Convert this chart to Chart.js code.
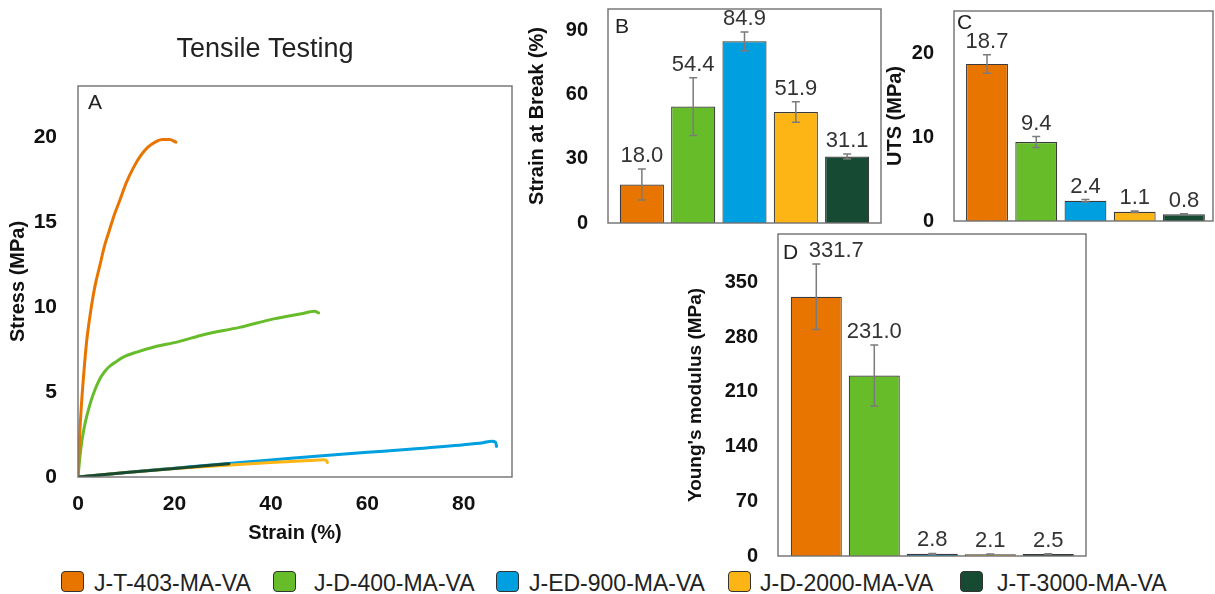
<!DOCTYPE html>
<html>
<head>
<meta charset="utf-8">
<script src="https://cdn.jsdelivr.net/npm/chart.js@4.4.0/dist/chart.umd.min.js"></script>
<style>
  body { margin:0; background:#fff; width:1215px; height:594px; overflow:hidden; position:relative; font-family:"Liberation Sans", Arial, sans-serif; }
  canvas { position:absolute; }
  .sw { position:absolute; top:571px; width:21px; height:19px; border:1.5px solid #333; border-radius:4px; }
  .txt { position:absolute; top:571px; font-size:23px; line-height:24px; color:#222; white-space:nowrap; }
</style>
</head>
<body>
<canvas id="cA" width="530" height="560" style="left:0;top:0"></canvas>
<canvas id="cB" width="370" height="240" style="left:520px;top:0"></canvas>
<canvas id="cC" width="335" height="240" style="left:880px;top:0"></canvas>
<canvas id="cD" width="420" height="340" style="left:680px;top:228px"></canvas>
<div id="legend"></div>
<script>
  // muestras y colores
  const samples = ["J-T-403-MA-VA", "J-D-400-MA-VA", "J-ED-900-MA-VA", "J-D-2000-MA-VA", "J-T-3000-MA-VA"];
  const colores = ["#e87500", "#67bc2a", "#009fdf", "#fdb515", "#174a33"];

  // curvas esfuerzo-deformacion (panel A)
  const strain403 = [0, 0.3, 0.7, 1.2, 1.8, 2.6, 3.5, 4.5, 5.5, 6.5, 7.5, 8.7, 10, 11.5, 13, 14.5, 16, 17.5, 19, 20.3];
  const stress403 = [0, 2.2, 4.2, 6.1, 8.0, 9.7, 11.2, 12.4, 13.6, 14.5, 15.4, 16.3, 17.3, 18.2, 18.9, 19.4, 19.7, 19.85, 19.85, 19.7];
  const strain400 = [0, 0.4, 0.85, 1.5, 2.3, 3.2, 4.4, 5.4, 6.5, 8, 9.4, 12.2, 15.8, 20.7, 26.4, 33.5, 40.6, 46.3, 49.1, 49.9];
  const stress400 = [0, 1.2, 2.2, 3.2, 4.1, 4.9, 5.7, 6.15, 6.5, 6.8, 7.05, 7.35, 7.65, 7.95, 8.4, 8.8, 9.3, 9.6, 9.75, 9.65];
  const strain900 = [0, 10, 20, 30, 40, 50, 60, 70, 80, 84, 85.8, 86.6, 86.8];
  const stress900 = [0, 0.27, 0.52, 0.77, 1.0, 1.24, 1.45, 1.66, 1.9, 2.02, 2.1, 2.05, 1.8];
  const strain2000 = [0, 10, 20, 30, 40, 48, 51, 51.6, 51.7];
  const stress2000 = [0, 0.27, 0.5, 0.68, 0.85, 0.97, 1.02, 0.95, 0.85];
  const strain3000 = [0, 10, 20, 31.3];
  const stress3000 = [0, 0.27, 0.5, 0.78];
  const drawOrder = [3, 4, 2, 1, 0];

  // propiedades (paneles B, C, D)
  const breakStrain = [18.0, 54.4, 84.9, 51.9, 31.1];
  const breakStrainErr = [7.2, 13.5, 4.4, 4.8, 1.2];
  const uts = [18.7, 9.4, 2.4, 1.1, 0.8];
  const utsErr = [1.1, 0.65, 0.15, 0.08, 0.05];
  const modulus = [331.7, 231.0, 2.8, 2.1, 2.5];
  const modulusErr = [42, 39, 0.5, 0.3, 0.4];

  // ticks
  const strainTicks = [0, 20, 40, 60, 80];
  const stressTicks = [0, 5, 10, 15, 20];
  const breakTicks = [0, 30, 60, 90];
  const utsTicks = [0, 10, 20];
  const modulusTicks = [0, 70, 140, 210, 280, 350];
  const barPos = [0, 1, 2, 3, 4];

  const fam = '"Liberation Sans", Arial, sans-serif';
  Chart.defaults.font.family = fam;
  Chart.defaults.color = "#111";

  const panelPlugin = {
    id: "panel",
    afterDatasetsDraw(chart, args, opts) {
      if (!opts.err) return;
      let ctx = chart.ctx;
      let y = chart.scales.y;
      let meta = chart.getDatasetMeta(0);
      let vals = chart.data.datasets[0].data;
      ctx.save();
      meta.data.forEach(function(bar, i) {
        let v = vals[i].y;
        let e = opts.err[i];
        let yTop = y.getPixelForValue(v + e);
        let yBot = y.getPixelForValue(v - e);
        ctx.strokeStyle = "#7b7b7b";
        ctx.lineWidth = 1.5;
        ctx.beginPath();
        ctx.moveTo(bar.x, yTop); ctx.lineTo(bar.x, yBot);
        ctx.moveTo(bar.x - 4, yTop); ctx.lineTo(bar.x + 4, yTop);
        ctx.moveTo(bar.x - 4, yBot); ctx.lineTo(bar.x + 4, yBot);
        ctx.stroke();
        ctx.fillStyle = "#333";
        ctx.font = "22px " + fam;
        ctx.textAlign = "center";
        ctx.textBaseline = "middle";
        let top = Math.min(yTop, bar.y);
        let shift = (i === 0 && opts.shiftFirst) ? opts.shiftFirst : 0;
        ctx.fillText(v.toFixed(1), bar.x + shift, top - 13);
      });
      ctx.restore();
    },
    afterDraw(chart, args, opts) {
      let ctx = chart.ctx;
      let a = chart.chartArea;
      ctx.save();
      ctx.strokeStyle = "#707070";
      ctx.lineWidth = 1.4;
      ctx.strokeRect(a.left, a.top, a.right - a.left, a.bottom - a.top);
      ctx.fillStyle = "#222";
      ctx.font = "21px " + fam;
      ctx.textAlign = "left";
      ctx.textBaseline = "middle";
      ctx.fillText(opts.letter, a.left + opts.lx, a.top + opts.ly);
      ctx.restore();
    }
  };
  Chart.register(panelPlugin);

  function setTicks(arr) {
    return function(s) { s.ticks = arr.map(v => ({ value: v })); };
  }
  // quita el margen extra que Chart.js deja para las etiquetas de los extremos
  function fixSize(prop, size) {
    return function(s) {
      s[prop] = size;
      s.paddingTop = 0; s.paddingBottom = 0; s.paddingLeft = 0; s.paddingRight = 0;
    };
  }

  // Panel A
  const curvas = [
    [strain403, stress403], [strain400, stress400], [strain900, stress900],
    [strain2000, stress2000], [strain3000, stress3000]
  ];
  new Chart(document.getElementById("cA"), {
    type: "line",
    data: {
      datasets: curvas.map(function(c, i) {
        return {
          label: samples[i],
          data: c[0].map((x, j) => ({ x: x, y: c[1][j] })),
          borderColor: colores[i],
          borderWidth: 3,
          pointRadius: 0,
          cubicInterpolationMode: "monotone",
          borderCapStyle: "round",
          order: drawOrder[i]
        };
      })
    },
    options: {
      responsive: false, animation: false,
      layout: { padding: { left: 18, right: 18, top: 0, bottom: 0 } },
      plugins: {
        legend: { display: false }, tooltip: { enabled: false },
        title: { display: true, text: "Tensile Testing", color: "#222", font: { size: 27, weight: "normal" }, padding: { top: 33, bottom: 20.6 } },
        panel: { letter: "A", lx: 10, ly: 17 }
      },
      scales: {
        x: {
          type: "linear", min: 0, max: 90,
          grid: { display: false, drawTicks: false }, border: { display: false },
          ticks: { padding: 15, font: { size: 21, weight: "bold" } },
          title: { display: true, text: "Strain (%)", font: { size: 20, weight: "bold" }, padding: { top: 0, bottom: 15 } },
          afterBuildTicks: setTicks(strainTicks),
          afterFit: fixSize("height", 83)
        },
        y: {
          min: 0, max: 23,
          grid: { display: false, drawTicks: false }, border: { display: false },
          ticks: { padding: 21, font: { size: 21, weight: "bold" } },
          title: { display: true, text: "Stress (MPa)", font: { size: 20, weight: "bold" }, padding: { top: -12, bottom: 0 } },
          afterBuildTicks: setTicks(stressTicks),
          afterFit: fixSize("width", 60)
        }
      }
    }
  });

  function barChart(id, vals, errs, o) {
    return new Chart(document.getElementById(id), {
      type: "bar",
      data: {
        datasets: [{
          data: barPos.map((x, i) => ({ x: x, y: vals[i] })),
          backgroundColor: colores,
          borderColor: "#3a3a3a",
          borderWidth: 1.2,
          barPercentage: o.barPct,
          categoryPercentage: 1
        }]
      },
      options: {
        responsive: false, animation: false,
        layout: { padding: o.pad },
        plugins: {
          legend: { display: false }, tooltip: { enabled: false },
          panel: { letter: o.letter, lx: o.lx, ly: o.ly, err: errs, shiftFirst: o.shiftFirst }
        },
        scales: {
          x: {
            type: "linear", display: false, offset: false, bounds: "data",
            min: o.xmin, max: o.xmax,
            afterBuildTicks: setTicks(barPos)
          },
          y: {
            min: 0, max: o.ymax,
            grid: { display: false, drawTicks: false }, border: { display: false },
            ticks: { padding: 20, font: { size: 20, weight: "bold" } },
            title: { display: true, text: o.title, font: { size: o.titleSize, weight: "bold" }, padding: { top: o.titlePad, bottom: 0 } },
            afterBuildTicks: setTicks(o.ticks),
            afterFit: fixSize("width", o.yWidth)
          }
        }
      }
    });
  }

  barChart("cB", breakStrain, breakStrainErr, {
    letter: "B", lx: 7, ly: 18, barPct: 0.86, xmin: -0.66, xmax: 4.66, ymax: 100,
    pad: { top: 9, right: 9, bottom: 17, left: 0 }, yWidth: 88,
    title: "Strain at Break (%)", titleSize: 20, titlePad: 5, ticks: breakTicks
  });
  barChart("cC", uts, utsErr, {
    letter: "C", lx: 3, ly: 12, barPct: 0.85, xmin: -0.67, xmax: 4.59, ymax: 25,
    pad: { top: 11, right: 2, bottom: 19, left: 0 }, yWidth: 74,
    title: "UTS (MPa)", titleSize: 20, titlePad: 3, ticks: utsTicks
  });
  barChart("cD", modulus, modulusErr, {
    letter: "D", lx: 5, ly: 19, barPct: 0.88, xmin: -0.66, xmax: 4.65, ymax: 412,
    pad: { top: 6, right: 14, bottom: 12, left: 0 }, yWidth: 98, shiftFirst: 20,
    title: "Young's modulus (MPa)", titleSize: 19, titlePad: 4, ticks: modulusTicks
  });

  // leyenda (posiciones horizontales de cada muestra)
  const swatchLeft = [61, 273, 496, 728, 960];
  const textLeft = [94, 314, 529, 760, 997];
  let leyenda = document.getElementById("legend");
  samples.forEach(function(s, i) {
    let sw = document.createElement("div");
    sw.className = "sw";
    sw.style.left = swatchLeft[i] + "px";
    sw.style.background = colores[i];
    let tx = document.createElement("div");
    tx.className = "txt";
    tx.style.left = textLeft[i] + "px";
    tx.textContent = s;
    leyenda.appendChild(sw);
    leyenda.appendChild(tx);
  });
</script>
</body>
</html>
